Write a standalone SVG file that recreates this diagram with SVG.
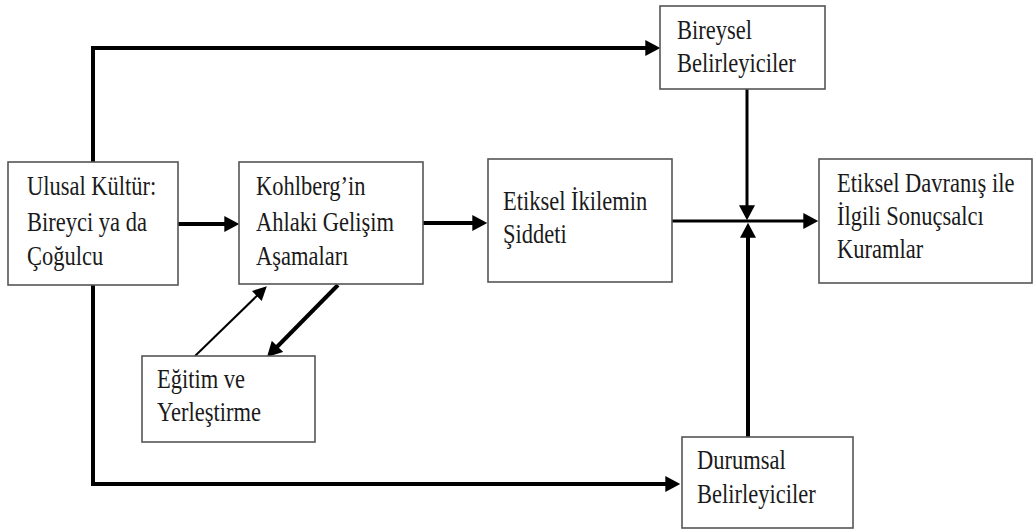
<svg xmlns="http://www.w3.org/2000/svg" width="1035" height="530" viewBox="0 0 1035 530">
  <style>
    .box { fill: #ffffff; stroke: #555555; stroke-width: 1.6; }
    .lbl { font-family: "Liberation Serif", "Times New Roman", serif; font-size: 22.5px; fill: #1a1a1a; }
    .wire { fill: none; stroke: #000000; stroke-linejoin: miter; }
    .w4 { stroke-width: 4; }
    .w3 { stroke-width: 3; }
    .w2 { stroke-width: 2; }
  </style>
  <defs>
    <marker id="head" markerUnits="userSpaceOnUse" markerWidth="16" markerHeight="16" viewBox="0 0 14 15" refX="10" refY="7.5" orient="auto">
      <path d="M0,0 L14,7.5 L0,15 Z" fill="#000000"/>
    </marker>
    <marker id="headSmall" markerUnits="userSpaceOnUse" markerWidth="14" markerHeight="14" viewBox="0 0 13 13" refX="10" refY="6.5" orient="auto">
      <path d="M0,0 L13,6.5 L0,13 Z" fill="#000000"/>
    </marker>
  </defs>

  <rect width="1035" height="530" fill="#ffffff"/>

  <g id="connectors">
    <!-- culture to individual determinants (top route) -->
    <path class="wire w4" d="M93,162 V48 H656" marker-end="url(#head)"/>
    <!-- culture to situational determinants (bottom route) -->
    <path class="wire w4" d="M93,285 V484 H676" marker-end="url(#head)"/>
    <!-- culture to Kohlberg -->
    <path class="wire w4" d="M178,224 H235" marker-end="url(#head)"/>
    <!-- Kohlberg to dilemma intensity -->
    <path class="wire w4" d="M423,223 H483" marker-end="url(#head)"/>
    <!-- dilemma intensity to consequentialist theories -->
    <path class="wire w3" d="M672,221 H814" marker-end="url(#head)"/>
    <!-- individual determinants down to junction -->
    <path class="wire w3" d="M747,89 V216" marker-end="url(#head)"/>
    <!-- situational determinants up to junction -->
    <path class="wire w4" d="M748,437 V227" marker-end="url(#head)"/>
    <!-- education up to Kohlberg (thin) -->
    <path class="wire w2" d="M195,356 L264.5,288.5" marker-end="url(#headSmall)"/>
    <!-- Kohlberg down to education (thick) -->
    <path class="wire w4" d="M338,285 L270,354" marker-end="url(#head)"/>
  </g>

  <g id="node-ulusal">
    <rect class="box" x="8" y="162" width="170" height="123"/>
    <text class="lbl" transform="translate(27 195) scale(1 1.2)">Ulusal Kültür:</text>
    <text class="lbl" transform="translate(27 231) scale(1 1.2)">Bireyci ya da</text>
    <text class="lbl" transform="translate(27 265) scale(1 1.2)">Çoğulcu</text>
  </g>

  <g id="node-kohlberg">
    <rect class="box" x="239" y="162" width="184" height="122"/>
    <text class="lbl" transform="translate(256 195) scale(1 1.2)">Kohlberg’in</text>
    <text class="lbl" transform="translate(256 231) scale(1 1.2)">Ahlaki Gelişim</text>
    <text class="lbl" transform="translate(256 265) scale(1 1.2)">Aşamaları</text>
  </g>

  <g id="node-ikilem">
    <rect class="box" x="488" y="159" width="184" height="123"/>
    <text class="lbl" transform="translate(503 210) scale(1 1.2)">Etiksel İkilemin</text>
    <text class="lbl" transform="translate(503 243) scale(1 1.2)">Şiddeti</text>
  </g>

  <g id="node-bireysel">
    <rect class="box" x="660" y="6" width="165" height="83"/>
    <text class="lbl" transform="translate(677 39) scale(1 1.2)">Bireysel</text>
    <text class="lbl" transform="translate(677 72) scale(1 1.2)">Belirleyiciler</text>
  </g>

  <g id="node-kuramlar">
    <rect class="box" x="819" y="159" width="213" height="124"/>
    <text class="lbl" transform="translate(837 192) scale(1 1.2)">Etiksel Davranış ile</text>
    <text class="lbl" transform="translate(837 225) scale(1 1.2)">İlgili Sonuçsalcı</text>
    <text class="lbl" transform="translate(837 258) scale(1 1.2)">Kuramlar</text>
  </g>

  <g id="node-egitim">
    <rect class="box" x="142" y="356" width="173" height="86"/>
    <text class="lbl" transform="translate(157 388) scale(1 1.2)">Eğitim ve</text>
    <text class="lbl" transform="translate(157 421) scale(1 1.2)">Yerleştirme</text>
  </g>

  <g id="node-durumsal">
    <rect class="box" x="682" y="437" width="171" height="91"/>
    <text class="lbl" transform="translate(697 469) scale(1 1.2)">Durumsal</text>
    <text class="lbl" transform="translate(697 503) scale(1 1.2)">Belirleyiciler</text>
  </g>
</svg>
